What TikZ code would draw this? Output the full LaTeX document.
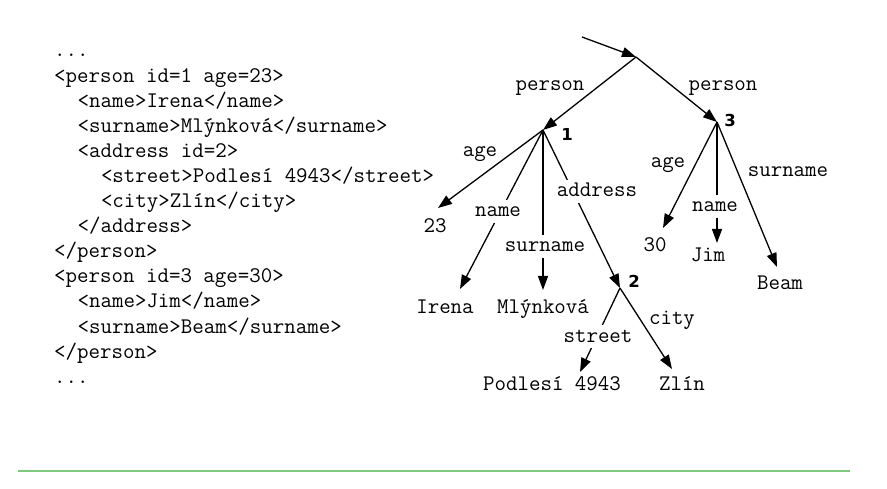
\documentclass[tikz,border=0pt]{standalone}
\usepackage{fontspec}
\newfontfamily\numfont{DejaVu Sans}
\usetikzlibrary{arrows.meta}
\definecolor{rulegreen}{RGB}{125,200,125}
\tikzset{
  mono/.style={font=\fontsize{22.3}{25}\selectfont\ttfamily, inner sep=0pt},
  codeline/.style={mono, anchor=base west},
  lbl/.style={mono, anchor=base},
  onlbl/.style={mono, anchor=base, fill=white, inner sep=2pt, text height=15pt, text depth=4pt},
  idlbl/.style={font=\fontsize{16.5}{18}\selectfont\numfont\bfseries, anchor=base, inner sep=0pt},
  edge/.style={line width=1.3pt, -{Triangle[length=14pt,width=10pt]}},
}
\begin{document}
\begin{tikzpicture}[x=1pt,y=-1pt]
\useasboundingbox (0,0) rectangle (887,489);
\fill[white] (0,0) rectangle (887,489);
% code listing
\node[codeline] (c0)  at (54,57)    {...};
\node[codeline] (c1)  at (54,82.1)  {<person id=1 age=23>};
\node[codeline] (c2)  at (77.4,107.2) {<name>Irena</name>};
\node[codeline] (c3)  at (77.4,132.3) {<surname>Mlýnková</surname>};
\node[codeline] (c4)  at (77.4,157.4) {<address id=2>};
\node[codeline] (c5)  at (100.8,182.5) {<street>Podlesí 4943</street>};
\node[codeline] (c6)  at (100.8,207.6) {<city>Zlín</city>};
\node[codeline] (c7)  at (77.4,232.7) {</address>};
\node[codeline] (c8)  at (54,257.8) {</person>};
\node[codeline] (c9)  at (54,282.9) {<person id=3 age=30>};
\node[codeline] (c10) at (77.4,308) {<name>Jim</name>};
\node[codeline] (c11) at (77.4,333.1) {<surname>Beam</surname>};
\node[codeline] (c12) at (54,358.2) {</person>};
\node[codeline] (c13) at (54,383.3) {...};
% tree nodes
\coordinate (in0) at (582,37);
\coordinate (root) at (636,57);
\coordinate (n1) at (543,130);
\coordinate (n3) at (717,122);
\coordinate (n2) at (620,288);
\coordinate (t23) at (438,208);
\coordinate (tIrena) at (460,289);
\coordinate (tMly) at (543,290);
\coordinate (tPod) at (580,372);
\coordinate (tZlin) at (672,369);
\coordinate (t30) at (663,228);
\coordinate (tJim) at (717,243);
\coordinate (tBeam) at (777,267);
% edges
\draw[edge] (in0) -- (root);
\draw[edge] (root) -- (n1);
\draw[edge] (root) -- (n3);
\draw[edge] (n1) -- (t23);
\draw[edge] (n1) -- (tIrena);
\draw[edge] (n1) -- (tMly);
\draw[edge] (n1) -- (n2);
\draw[edge] (n2) -- (tPod);
\draw[edge] (n2) -- (tZlin);
\draw[edge] (n3) -- (t30);
\draw[edge] (n3) -- (tJim);
\draw[edge] (n3) -- (tBeam);
% labels beside edges
\node[lbl] (lp1) at (550,91) {person};
\node[lbl] (lp3) at (723,91) {person};
\node[lbl] (la1) at (480,157) {age};
\node[lbl] (la3) at (668,168) {age};
\node[lbl] (lcity) at (672,325) {city};
\node[lbl] (ls3) at (788,177) {surname};
% labels on edges
\node[onlbl] (ln1) at (498,217) {name};
\node[onlbl] (ls1) at (545,252) {surname};
\node[onlbl] (ladr) at (597,197) {address};
\node[onlbl] (lstr) at (598,342) {street};
\node[onlbl] (ln3) at (715,212) {name};
% leaf values
\node[lbl] (v23) at (435,233) {23};
\node[lbl] (vIrena) at (445,313) {Irena};
\node[lbl] (vMly) at (543,313) {Mlýnková};
\node[lbl] (vPod) at (552,390) {Podlesí 4943};
\node[lbl] (vZlin) at (682,390) {Zlín};
\node[lbl] (v30) at (655,252) {30};
\node[lbl] (vJim) at (708,262) {Jim};
\node[lbl] (vBeam) at (780,290) {Beam};
% ids
\node[idlbl] (id1) at (567,141) {1};
\node[idlbl] (id3) at (730,127) {3};
\node[idlbl] (id2) at (634,288) {2};
% rule
\coordinate (r0) at (18,471);
\coordinate (r1) at (850,471);
\draw[rulegreen, line width=1.8pt] (r0) -- (r1);
\end{tikzpicture}
\end{document}
